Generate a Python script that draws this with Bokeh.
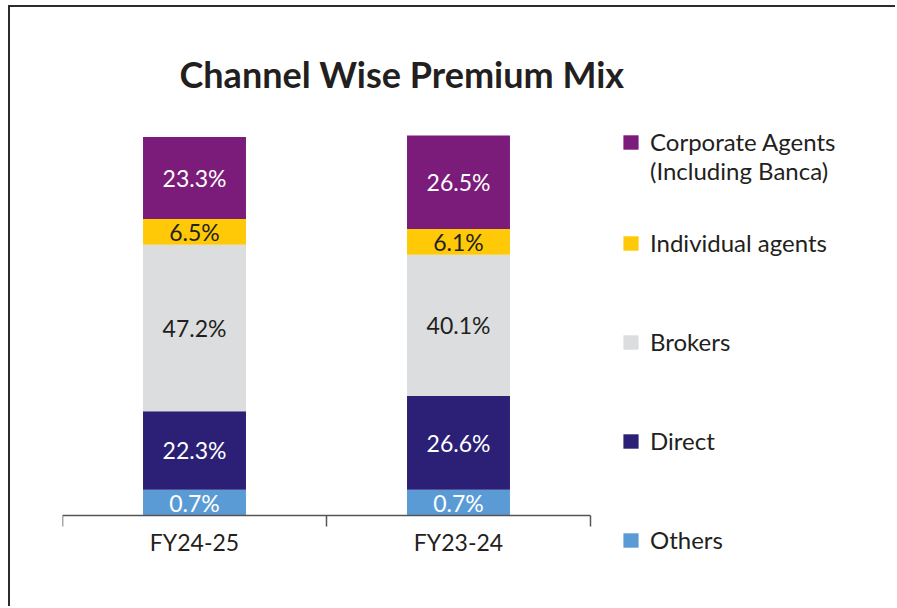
from bokeh.plotting import figure
from bokeh.models import ColumnDataSource, Range1d, FixedTicker, Legend, LegendItem
from bokeh.embed import file_html
from bokeh.resources import INLINE
from bokeh.core.properties import value

# ---- data ----
years = ["FY24-25", "FY23-24"]
corporate_agents = [23.3, 26.5]
individual_agents = [6.5, 6.1]
brokers = [47.2, 40.1]
direct = [22.3, 26.6]
others = [0.7, 0.7]

# stacked bottom -> top
series_names = ["Others", "Direct", "Brokers", "Individual agents", "Corporate Agents"]
series_values = [others, direct, brokers, individual_agents, corporate_agents]
series_colors = ["#5B9BD5", "#2B1F76", "#DCDDDF", "#FFC907", "#7B1B7A"]
label_colors = ["#FFFFFF", "#FFFFFF", "#231F20", "#231F20", "#FFFFFF"]

# ---- style / layout constants ----
MIN_SEGMENT = 7.3          # smallest drawn segment height so that its label fits
FONT = "Lato"
TEXT = "#231F20"
W, H = 887, 601            # canvas size (page offset 10, 7 from margin + border)
LEFT = 52                  # frame left (canvas px)
TOP = 110                  # frame top (canvas px)
BARS_TOP = 128             # canvas px of the top of the bars
AXIS_Y = 508               # canvas px of the category axis (bar base)
BOTTOM = 557               # frame bottom (canvas px)
CAT_PX = 264               # px per category slot

xs = [i + 0.5 for i in range(len(years))]
drawn = [[max(v, MIN_SEGMENT) for v in s] for s in series_values]
keys = [f"s{i}" for i in range(len(series_names))]
data = {"x": xs}
for k, d in zip(keys, drawn):
    data[k] = d
src = ColumnDataSource(data)
total = max(sum(d[j] for d in drawn) for j in range(len(years)))
unit_px = (AXIS_Y - BARS_TOP) / total
y_start = -(BOTTOM - AXIS_Y) / unit_px
y_end = total + (BARS_TOP - TOP) / unit_px
x_end = (W - LEFT) / CAT_PX

# label positions
lx, ly, lt, lc = [], [], [], []
for j in range(len(years)):
    bottom = 0.0
    for i, d in enumerate(drawn):
        lx.append(xs[j])
        ly.append(bottom + d[j] / 2)
        lt.append(f"{series_values[i][j]:.1f}%")
        lc.append(label_colors[i])
        bottom += d[j]
lab_src = ColumnDataSource(dict(x=lx, y=ly, text=lt, color=lc))

p = figure(width=W, height=H, x_range=Range1d(0, x_end), y_range=Range1d(y_start, y_end),
           output_backend="svg", toolbar_location=None, y_axis_location=None,
           min_border_left=LEFT, min_border_right=0, min_border_top=TOP,
           min_border_bottom=H - BOTTOM)
p.styles = {"margin-left": "8px", "margin-top": "5px",
            "border-top": "2px solid #2b2b2b", "border-left": "2px solid #2b2b2b"}
p.outline_line_color = None
p.grid.visible = False
p.background_fill_color = "white"

renderers = p.vbar_stack(keys, x="x", width=0.39, color=series_colors, line_color=None, source=src)

p.text(x="x", y="y", text="text", text_color="color", source=lab_src,
       text_align="center", text_baseline="middle",
       text_font=value(FONT), text_font_size="23px")

# x axis: category boundaries as ticks, names centred, drawn at the bar base
ax = p.xaxis[0]
ax.fixed_location = 0
ax.bounds = (0, len(years))
ax.ticker = FixedTicker(ticks=xs, minor_ticks=list(range(len(years) + 1)))
ax.major_label_overrides = {x: y for x, y in zip(xs, years)}
ax.major_tick_line_color = None
ax.major_tick_out = 0
ax.major_tick_in = 0
ax.minor_tick_out = 11
ax.minor_tick_in = 0
ax.minor_tick_line_color = "#555555"
ax.minor_tick_line_width = 1.5
ax.axis_line_color = "#555555"
ax.axis_line_width = 1.5
ax.major_label_text_font = FONT
ax.major_label_text_font_size = "23px"
ax.major_label_text_color = TEXT
ax.major_label_standoff = 1

# title
p.title.text = "Channel Wise Premium Mix"
p.title.align = "left"
p.title.offset = 117
p.title.text_font = FONT
p.title.text_font_style = "bold"
p.title.text_font_size = "36px"
p.title.text_color = TEXT
if "standoff" in p.title.properties():
    p.title.standoff = 44

# legends (inside the frame, to the right of the bars)
LEG_X = 559
blank = p.vbar(x=[], top=[], width=0.1, fill_alpha=0, line_alpha=0)
common = dict(margin=0, padding=0, border_line_color=None, background_fill_alpha=0,
              glyph_width=19, glyph_height=18, label_standoff=10,
              label_text_font=FONT, label_text_font_size="24px", label_text_color=TEXT)
legA = Legend(items=[LegendItem(label="Corporate Agents", renderers=[renderers[4]]),
                     LegendItem(label="(Including Banca)", renderers=[blank])],
              location=(LEG_X, 379), spacing=-2, **common)
legB = Legend(items=[LegendItem(label=series_names[i], renderers=[renderers[i]]) for i in (3, 2, 1, 0)],
              location=(LEG_X, 10), spacing=70, **common)
p.add_layout(legA)
p.add_layout(legB)

open("out.html", "w").write(file_html(p, INLINE))
